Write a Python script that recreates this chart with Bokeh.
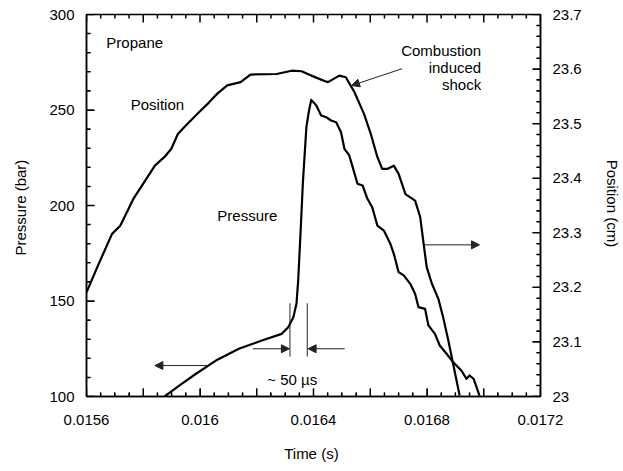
from bokeh.plotting import figure
from bokeh.models import Range1d, LinearAxis, FixedTicker, Arrow, NormalHead, Label
from bokeh.embed import file_html
from bokeh.resources import INLINE

# ---------------- data ----------------
time_pos = [0.015600, 0.015643, 0.015690, 0.015719, 0.015765, 0.015800, 0.015841, 0.015875,
            0.015899, 0.015922, 0.015945, 0.015991, 0.016032, 0.016061, 0.016096, 0.016143,
            0.016178, 0.016270, 0.016323, 0.016358, 0.016392, 0.016439, 0.016451, 0.016491,
            0.016514, 0.016544, 0.016578, 0.016602, 0.016625, 0.016642, 0.016660, 0.016683,
            0.016700, 0.016724, 0.016741, 0.016758, 0.016776, 0.016788, 0.016799, 0.016817,
            0.016840, 0.016857, 0.016875, 0.016892, 0.016915]
position_cm = [23.191, 23.243, 23.298, 23.313, 23.362, 23.390, 23.423, 23.439,
               23.454, 23.481, 23.494, 23.518, 23.539, 23.555, 23.570, 23.576,
               23.590, 23.591, 23.597, 23.596, 23.588, 23.578, 23.576, 23.588,
               23.585, 23.558, 23.518, 23.481, 23.439, 23.417, 23.417, 23.423,
               23.408, 23.371, 23.365, 23.359, 23.329, 23.280, 23.237, 23.207,
               23.179, 23.145, 23.103, 23.060, 23.002]

time_p = [0.015875, 0.015928, 0.015986, 0.016056, 0.016137, 0.016218, 0.016288, 0.016311,
          0.016329, 0.016340, 0.016346, 0.016353, 0.016363, 0.016375, 0.016383, 0.016392,
          0.016410, 0.016427, 0.016445, 0.016462, 0.016480, 0.016497, 0.016509, 0.016526,
          0.016538, 0.016555, 0.016573, 0.016590, 0.016607, 0.016625, 0.016648, 0.016671,
          0.016683, 0.016700, 0.016718, 0.016741, 0.016758, 0.016770, 0.016793, 0.016805,
          0.016828, 0.016845, 0.016869, 0.016892, 0.016921, 0.016939, 0.016950, 0.016964,
          0.016985]
pressure_bar = [100.0, 105.8, 111.9, 118.8, 125.0, 129.3, 132.8, 136.3,
                141.5, 148.5, 160.7, 181.7, 213.1, 241.0, 248.7, 255.3,
                252.4, 247.1, 246.2, 244.5, 243.6, 238.4, 229.7, 226.2,
                220.1, 211.4, 210.5, 203.5, 199.1, 189.5, 186.9, 179.9,
                174.7, 165.1, 163.4, 159.0, 153.8, 146.8, 145.9, 137.2,
                132.8, 126.7, 122.4, 118.0, 113.6, 109.3, 111.0, 109.3,
                100.5]

x_major = [0.0156, 0.0158, 0.016, 0.0162, 0.0164, 0.0166, 0.0168, 0.017, 0.0172]
x_labels = ["0.0156", "", "0.016", "", "0.0164", "", "0.0168", "", "0.0172"]
y_major = [100, 150, 200, 250, 300]
pos_major = [23, 23.1, 23.2, 23.3, 23.4, 23.5, 23.6, 23.7]
pos_labels = ["23", "23.1", "23.2", "23.3", "23.4", "23.5", "23.6", "23.7"]

FONT = "Liberation Sans"
NAN = float("nan")
X0, X1 = 0.0156, 0.0172
Y0, Y1 = 100, 300
R0, R1 = 23, 23.7
W, H = 623, 471
BL, BR, BT, BB = 86, 78, 14, 75
FW, FH = W - BL - BR, H - BT - BB      # frame size in pixels

p = figure(width=W, height=H, output_backend="svg", toolbar_location=None,
           x_range=Range1d(X0, X1), y_range=Range1d(Y0, Y1),
           x_axis_type=None, y_axis_type=None,
           min_border_left=BL, min_border_right=BR, min_border_top=BT, min_border_bottom=BB)
p.extra_y_ranges = {"pos": Range1d(R0, R1)}
p.outline_line_color = "black"
p.outline_line_width = 1.5
p.background_fill_color = "white"
p.border_fill_color = "white"

x_minor = [round(X0 + 0.00005 * i, 6) for i in range(33)]
y_minor = [Y0 + 10 * i for i in range(21)]
pos_minor = [round(R0 + 0.02 * i, 2) for i in range(36)]


def style(ax, size="15px"):
    ax.major_tick_in = 8
    ax.major_tick_out = 0
    ax.minor_tick_in = 4
    ax.minor_tick_out = 0
    ax.axis_line_color = "black"
    ax.axis_line_width = 1.5
    ax.major_label_text_font = FONT
    ax.major_label_text_font_size = size
    ax.major_label_text_color = "black"
    ax.axis_label_text_font = FONT
    ax.axis_label_text_font_size = "15px"
    ax.axis_label_text_font_style = "normal"
    ax.axis_label_text_color = "black"


xb = LinearAxis(ticker=FixedTicker(ticks=x_major, minor_ticks=x_minor),
                major_label_overrides=dict(zip(x_major, x_labels)),
                axis_label="Time  (s)")
style(xb)
xb.major_label_standoff = 18
xb.axis_label_standoff = 17
p.add_layout(xb, "below")

yl = LinearAxis(ticker=FixedTicker(ticks=y_major, minor_ticks=y_minor),
                axis_label="Pressure  (bar)")
style(yl)
yl.major_label_standoff = 12
yl.axis_label_standoff = 17
p.add_layout(yl, "left")

yr = LinearAxis(y_range_name="pos", ticker=FixedTicker(ticks=pos_major, minor_ticks=pos_minor),
                major_label_overrides=dict(zip(pos_major, pos_labels)),
                axis_label="Position  (cm)")
style(yr)
yr.major_label_standoff = 12
yr.axis_label_standoff = 19
p.add_layout(yr, "right")

# inward ticks, drawn as one broken line per side (NaN separates the ticks)
dx = (X1 - X0) / FW       # data units per pixel, x
dy = (Y1 - Y0) / FH       # data units per pixel, left y


def tick_path(pos, base, step, sign, along_x):
    a, b = [], []
    for ticks, ln in pos:
        for t in ticks:
            if along_x:
                a += [t, t, NAN]
                b += [base, base + sign * ln * step, NAN]
            else:
                a += [base, base + sign * ln * step, NAN]
                b += [t, t, NAN]
    return a, b


TK = dict(line_color="black", line_width=1.5)
bx, by = tick_path([(x_major, 8), (x_minor, 4)], Y0, dy, 1, True)
p.line(bx, by, **TK)
tx, ty = tick_path([(x_major, 8), (x_minor, 4)], Y1, dy, -1, True)
p.line(tx, ty, **TK)
lx, ly = tick_path([(y_major, 8), (y_minor, 4)], X0, dx, 1, False)
p.line(lx, ly, **TK)
rx, ry = tick_path([(pos_major, 8), (pos_minor, 4)], X1, dx, -1, False)
p.line(rx, ry, y_range_name="pos", **TK)

# curves
p.line(time_pos, position_cm, y_range_name="pos", line_color="black", line_width=2.2,
       line_join="round")
p.line(time_p, pressure_bar, line_color="black", line_width=2.2, line_join="round")

# annotations
ACOL = "#222222"


def arrow(x0, y0, x1, y1, head=True):
    end = NormalHead(size=8, fill_color=ACOL, line_color=ACOL, line_width=1) if head else None
    p.add_layout(Arrow(x_start=x0, y_start=y0, x_end=x1, y_end=y1, end=end,
                       line_color=ACOL, line_width=1))


arrow(0.016712, 271.6, 0.016534, 262.8)          # combustion induced shock
arrow(0.016788, 179.4, 0.016985, 179.4)          # position -> right axis
arrow(0.016032, 116.2, 0.015841, 116.2)          # pressure -> left axis
arrow(0.016186, 125.0, 0.016315, 125.0)          # 50 us left
arrow(0.016510, 125.0, 0.016381, 125.0)          # 50 us right
arrow(0.016317, 120.9, 0.016317, 148.8, head=False)
arrow(0.016378, 120.9, 0.016378, 148.8, head=False)


def label(x, y, text, align="left"):
    p.add_layout(Label(x=x, y=y, text=text, text_font=FONT, text_font_size="15px",
                       text_color="black", text_align=align, text_baseline="alphabetic"))


label(0.015670, 285.5, "Propane")
label(0.015756, 252.7, "Position")
label(0.016061, 194.8, "Pressure")
label(0.016991, 281.2, "Combustion", "right")
label(0.016991, 272.4, "induced", "right")
label(0.016991, 263.4, "shock", "right")
label(0.016325, 108.9, "~ 50 \u00b5s", "center")

open("out.html", "w").write(file_html(p, INLINE))
